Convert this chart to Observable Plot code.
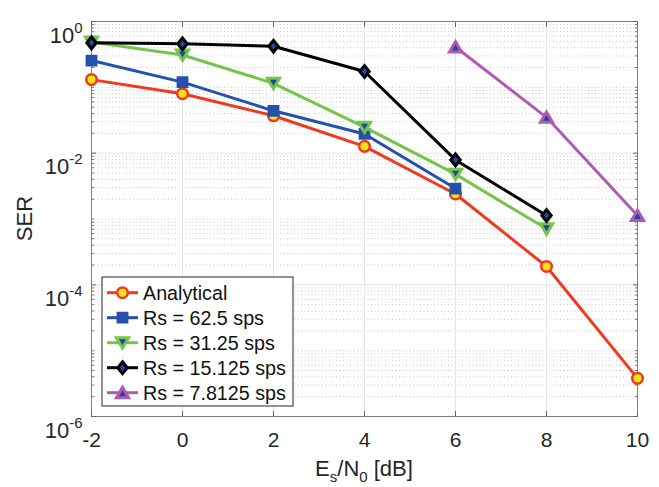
<!DOCTYPE html>
<html><head><meta charset="utf-8">
<script src="https://cdn.jsdelivr.net/npm/d3@7"></script>
<script src="https://cdn.jsdelivr.net/npm/@observablehq/plot@0.6"></script>
<style>
body{margin:0;background:#fff;font-family:"Liberation Sans",Arial,sans-serif;}
#wrap{position:relative;width:659px;height:487px;}
</style></head><body><div id="wrap"></div>
<script>
// ---- data ----
const snrAnalytical = [-2, 0, 2, 4, 6, 8, 10];
const serAnalytical = [0.131, 0.080, 0.037, 0.0127, 0.0024, 1.9e-4, 3.8e-6];
const snrRs625 = [-2, 0, 2, 4, 6];
const serRs625 = [0.255, 0.12, 0.044, 0.0196, 0.0029];
const snrRs3125 = [-2, 0, 2, 4, 6, 8];
const serRs3125 = [0.49, 0.31, 0.115, 0.0248, 0.0048, 7.1e-4];
const snrRs15125 = [-2, 0, 2, 4, 6, 8];
const serRs15125 = [0.474, 0.458, 0.42, 0.174, 0.0079, 0.00113];
const snrRs78125 = [6, 8, 10];
const serRs78125 = [0.41, 0.035, 0.00113];
const seriesNames = ["Analytical", "Rs = 62.5 sps", "Rs = 31.25 sps", "Rs = 15.125 sps", "Rs = 7.8125 sps"];
const xTicks = [-2, 0, 2, 4, 6, 8, 10];
const yTicks = [1e-6, 1e-4, 1e-2, 1];
const yTickExp = ["-6", "-4", "-2", "0"];

// ---- styling ----
const W = 659, H = 487, ML = 91, MR = 22, MT = 21, MB = 71;
const blueFace = "#1f47a3";
const symCircle = {draw(c){ c.moveTo(5.3,0); c.arc(0,0,5.3,0,2*Math.PI); c.closePath(); }};
const symSquare = {draw(c){ c.rect(-4.9,-4.9,9.8,9.8); }};
const symDown = {draw(c){ c.moveTo(0,5.4); c.lineTo(6.1,-5); c.lineTo(-6.1,-5); c.closePath(); }};
const symDiamond = {draw(c){ c.moveTo(0,-5.9); c.lineTo(4.7,0); c.lineTo(0,5.9); c.lineTo(-4.7,0); c.closePath(); }};
const symUp = {draw(c){ c.moveTo(0,-5.4); c.lineTo(6.1,5); c.lineTo(-6.1,5); c.closePath(); }};

const series = [
  {x: snrAnalytical, y: serAnalytical, color: "#f03a1e", face: "#f4e41c", sym: symCircle, sw: 2.5},
  {x: snrRs625, y: serRs625, color: "#2451ad", face: "#2451ad", sym: symSquare, sw: 2},
  {x: snrRs3125, y: serRs3125, color: "#76c44b", face: blueFace, sym: symDown, sw: 3},
  {x: snrRs15125, y: serRs15125, color: "#000000", face: blueFace, sym: symDiamond, sw: 3},
  {x: snrRs78125, y: serRs78125, color: "#b05ab3", face: blueFace, sym: symUp, sw: 3}
];

const minorY = [];
for (let e = -6; e < 0; e++) for (let m = 1; m < 10; m++) {
  if (m === 1 && e % 2 === 0) continue;
  minorY.push(m * Math.pow(10, e));
}

const seriesMarks = series.flatMap(s => [
  Plot.line(s.y, {x: s.x, y: s.y, stroke: s.color, strokeWidth: 3}),
  Plot.dot(s.y, {x: s.x, y: s.y, symbol: s.sym, r: 5, fill: s.face, stroke: s.color, strokeWidth: s.sw})
]);

const chart = Plot.plot({
  width: W, height: H, marginLeft: ML, marginRight: MR, marginTop: MT, marginBottom: MB,
  style: {fontFamily: "Liberation Sans, Arial, sans-serif", background: "white", overflow: "visible", color: "#262626"},
  x: {domain: [-2, 10]},
  y: {type: "log", domain: [1e-6, 1]},
  marks: [
    Plot.ruleY(minorY, {stroke: "#c6c6c6", strokeDasharray: "1,2.5"}),
    Plot.ruleY(yTicks, {stroke: "#e3e3e3"}),
    Plot.ruleX(xTicks, {stroke: "#e3e3e3"}),
    Plot.frame({stroke: "#808080"}),
    Plot.axisX(xTicks, {anchor: "bottom", tickSize: -5, tickFormat: () => "", label: null, stroke: "#666"}),
    Plot.axisX(xTicks, {anchor: "top", tickSize: -5, tickFormat: () => "", label: null, stroke: "#666"}),
    Plot.axisY(minorY, {anchor: "left", tickSize: -3, tickFormat: () => "", label: null, stroke: "#777"}),
    Plot.axisY(minorY, {anchor: "right", tickSize: -3, tickFormat: () => "", label: null, stroke: "#777"}),
    Plot.axisY(yTicks, {anchor: "left", tickSize: -5, tickFormat: () => "", label: null, stroke: "#666"}),
    Plot.axisY(yTicks, {anchor: "right", tickSize: -5, tickFormat: () => "", label: null, stroke: "#666"}),
    Plot.axisX(xTicks, {anchor: "bottom", tickSize: 0, tickPadding: 16, fontSize: 21, label: null, fill: "#262626",
      tickFormat: d => String(d)}),
    Plot.axisY(yTicks, {anchor: "left", tickSize: 0, tickPadding: 9, fontSize: 22, label: null, fill: "#262626",
      tickFormat: d => "e" + yTickExp[yTicks.indexOf(d)]}),
    ...seriesMarks
  ]
});
document.getElementById("wrap").appendChild(chart);

const svg = d3.select(chart);
// rebuild y tick labels as 10^e with superscripts
svg.selectAll('g[aria-label="y-axis tick label"] text').each(function() {
  const t = d3.select(this);
  const s = t.text();
  if (!s.startsWith("e")) return;
  const e = s.slice(1);
  t.text("").attr("dy", null);
  t.append("tspan").attr("dy", 14).attr("font-size", 22).text("10");
  t.append("tspan").attr("dy", -10).attr("font-size", 15).text(e);
});

// axis titles
svg.append("text").attr("transform", `translate(24,${(MT + H - MB) / 2}) rotate(-90)`)
  .attr("text-anchor", "middle").attr("dy", "0.35em").attr("font-size", 22).attr("fill", "#262626").text("SER");
const xl = svg.append("text").attr("x", (ML + W - MR) / 2).attr("y", 476)
  .attr("text-anchor", "middle").attr("font-size", 22).attr("fill", "#262626");
xl.append("tspan").text("E");
xl.append("tspan").attr("font-size", 15).attr("dy", 6).text("s");
xl.append("tspan").attr("dy", -6).text("/N");
xl.append("tspan").attr("font-size", 15).attr("dy", 6).text("0");
xl.append("tspan").attr("dy", -6).text(" [dB]");

// legend
const lg = svg.append("g");
lg.append("rect").attr("x", 102).attr("y", 277).attr("width", 191).attr("height", 129)
  .attr("fill", "white").attr("stroke", "#262626").attr("stroke-width", 1);
series.forEach((s, i) => {
  const cy = 292.7 + i * 25;
  lg.append("line").attr("x1", 107).attr("x2", 138).attr("y1", cy).attr("y2", cy)
    .attr("stroke", s.color).attr("stroke-width", 3);
  const p = d3.path(); s.sym.draw(p, 0);
  lg.append("path").attr("d", p.toString()).attr("transform", `translate(122.5,${cy})`)
    .attr("fill", s.face).attr("stroke", s.color).attr("stroke-width", s.sw);
  lg.append("text").attr("x", 143).attr("y", cy).attr("dy", "0.35em").attr("font-size", 19.7)
    .attr("text-anchor", "start").attr("fill", "#111").text(seriesNames[i]);
});
</script></body></html>
